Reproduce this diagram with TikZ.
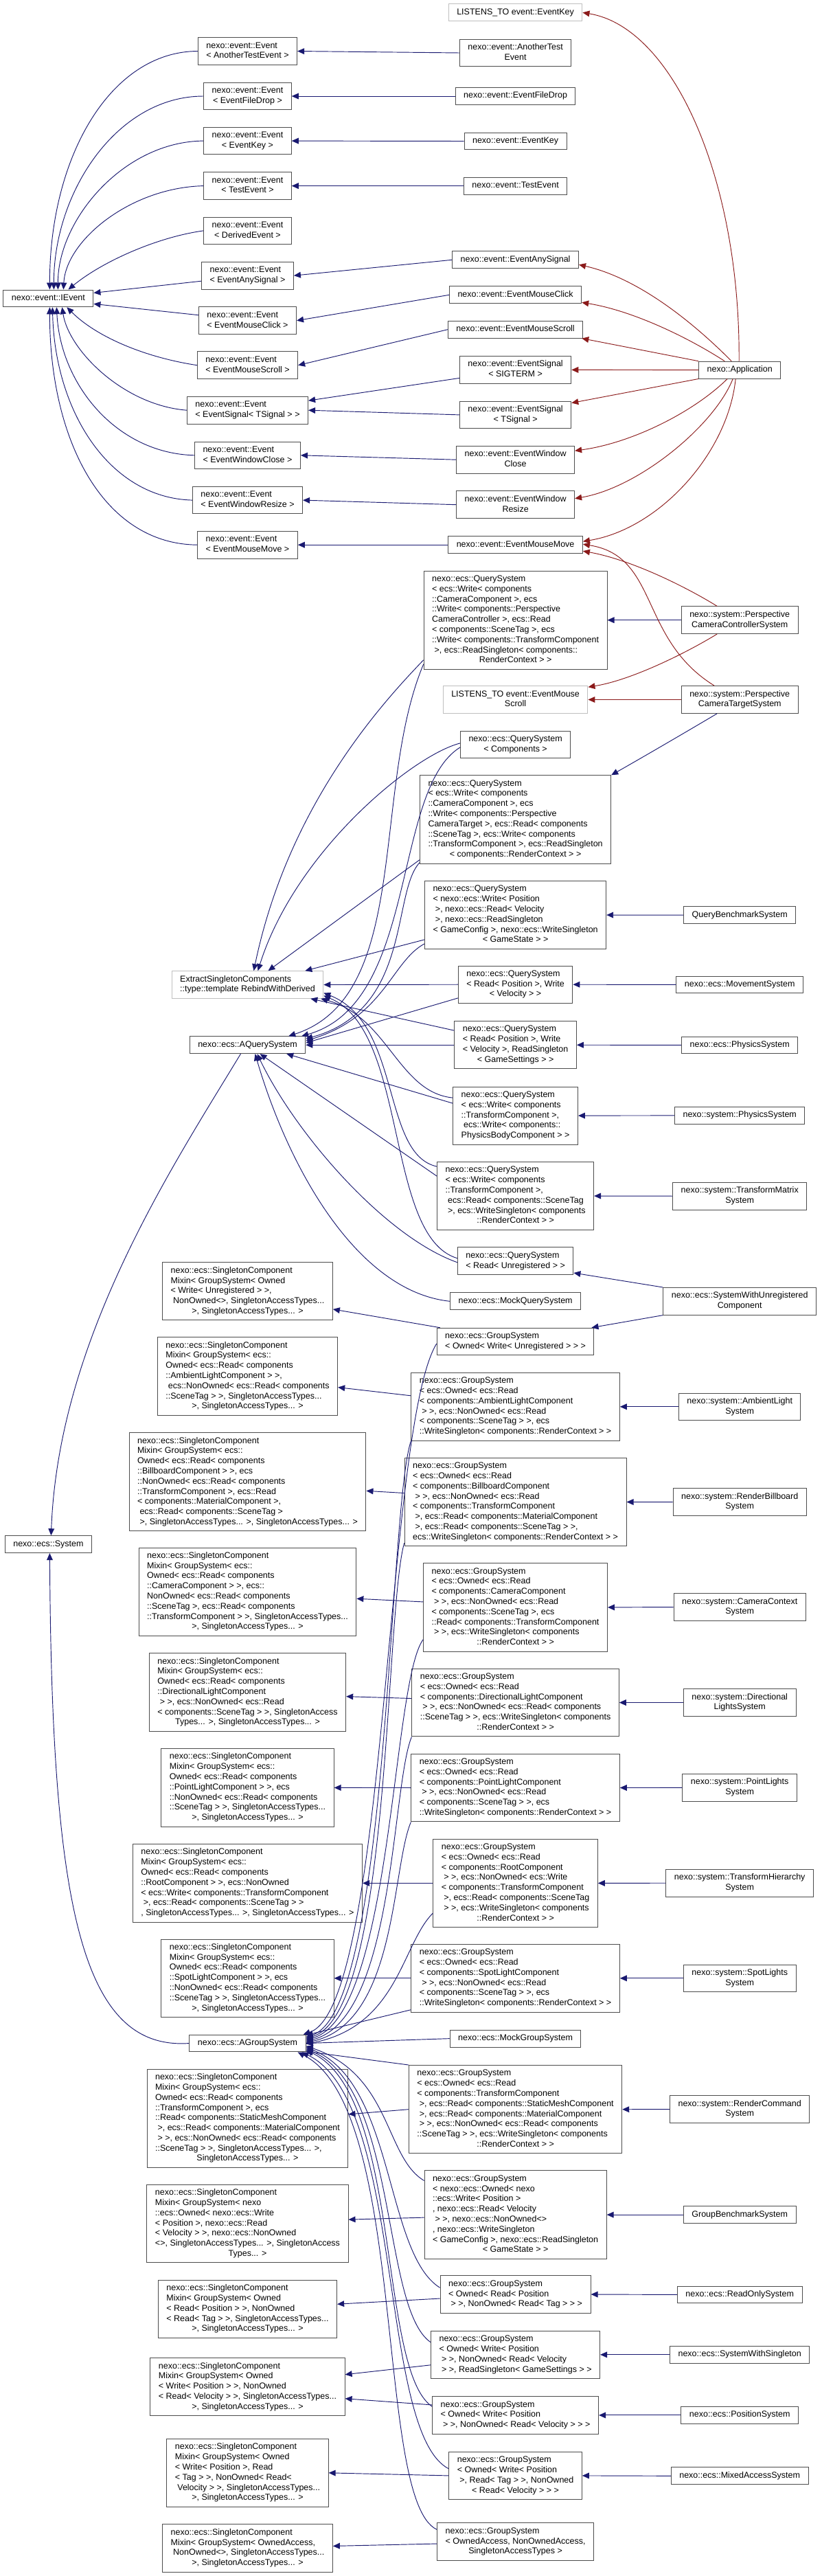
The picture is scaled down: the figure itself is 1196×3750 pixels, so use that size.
\documentclass[tikz,border=0pt]{standalone}
\usepackage{fontspec}
\newfontfamily\dotfont{Liberation Sans}
\usetikzlibrary{arrows.meta, calc}

\definecolor{navyedge}{RGB}{25,25,112}
\definecolor{rededge}{RGB}{139,26,26}
\definecolor{boxline}{RGB}{77,77,77}
\definecolor{extline}{RGB}{191,191,191}

\newcommand\graphfont{\dotfont\fontsize{10}{11.84}\selectfont}
% all lines centred
\newcommand\cname[1]{\begin{tabular}{@{}c@{}}#1\end{tabular}}
% lines left, last line centred
\newcommand\tname[2]{\begin{tabular}{@{}l@{}}#1\\\multicolumn{1}{@{}c@{}}{#2}\end{tabular}}

\begin{document}
\begin{tikzpicture}[
    x=0.8pt, y=-0.8pt,
    cls/.style={rectangle, draw=boxline, line width=0.8pt, fill=white,
                inner xsep=9.6pt, inner ysep=4pt, font=\graphfont},
    ext/.style={cls, draw=extline},
    inh/.style={draw=navyedge, line width=0.75pt, -{Triangle[length=8pt,width=7pt]}},
    lst/.style={draw=rededge, line width=0.75pt, -{Triangle[length=8pt,width=7pt]}}
  ]
    \useasboundingbox (0,0) rectangle (1196,3750);

    % Roots
    \node[cls] (ievent) at (70.4,434.4) {\cname{nexo::event::IEvent}};
    \node[cls] (system) at (70.4,2248.1) {\cname{nexo::ecs::System}};

    % Event templates
    \node[cls] (tAnother)     at (360.5,74.5)  {\tname{nexo::event::Event}{< AnotherTestEvent >}};
    \node[cls] (tFileDrop)    at (360.5,140)   {\tname{nexo::event::Event}{< EventFileDrop >}};
    \node[cls] (tKey)         at (360.5,205.1) {\tname{nexo::event::Event}{< EventKey >}};
    \node[cls] (tTest)        at (360.5,270.6) {\tname{nexo::event::Event}{< TestEvent >}};
    \node[cls] (tDerived)     at (360.5,335.9) {\tname{nexo::event::Event}{< DerivedEvent >}};
    \node[cls] (tAnySignal)   at (360.5,401.2) {\tname{nexo::event::Event}{< EventAnySignal >}};
    \node[cls] (tMouseClick)  at (360.5,466.7) {\tname{nexo::event::Event}{< EventMouseClick >}};
    \node[cls] (tMouseScroll) at (360.5,531.7) {\tname{nexo::event::Event}{< EventMouseScroll >}};
    \node[cls] (tSignal)      at (360.5,597.2) {\tname{nexo::event::Event}{< EventSignal< TSignal > >}};
    \node[cls] (tWinClose)    at (360.5,662.8) {\tname{nexo::event::Event}{< EventWindowClose >}};
    \node[cls] (tWinResize)   at (360.5,728.1) {\tname{nexo::event::Event}{< EventWindowResize >}};
    \node[cls] (tMouseMove)   at (360.5,793.2) {\tname{nexo::event::Event}{< EventMouseMove >}};

    % Events
    \node[ext] (ltKey)        at (750.6,18.3)  {\cname{LISTENS\_TO event::EventKey}};
    \node[cls] (eAnother)     at (750.6,77)    {\cname{nexo::event::AnotherTest\\Event}};
    \node[cls] (eFileDrop)    at (750.6,140)   {\cname{nexo::event::EventFileDrop}};
    \node[cls] (eKey)         at (750.6,205.5) {\cname{nexo::event::EventKey}};
    \node[cls] (eTest)        at (750.6,270.6) {\cname{nexo::event::TestEvent}};
    \node[cls] (eAnySignal)   at (750.6,378.3) {\cname{nexo::event::EventAnySignal}};
    \node[cls] (eMouseClick)  at (750.6,429.3) {\cname{nexo::event::EventMouseClick}};
    \node[cls] (eMouseScroll) at (750.6,479.7) {\cname{nexo::event::EventMouseScroll}};
    \node[cls] (eSigterm)     at (750.6,538.4) {\cname{nexo::event::EventSignal\\< SIGTERM >}};
    \node[cls] (eSignal)      at (750.6,603.9) {\cname{nexo::event::EventSignal\\< TSignal >}};
    \node[cls] (eWinClose)    at (750.6,669.2) {\cname{nexo::event::EventWindow\\Close}};
    \node[cls] (eWinResize)   at (750.6,734.7) {\cname{nexo::event::EventWindow\\Resize}};
    \node[cls] (eMouseMove)   at (750.6,793.2) {\cname{nexo::event::EventMouseMove}};

    % Application
    \node[cls] (app) at (1077.2,538.6) {\cname{nexo::Application}};

    % Query systems
    \node[ext] (extract) at (360.5,1433.5) {\tname{ExtractSingletonComponents}{::type::template RebindWithDerived}};
    \node[cls] (aquery)  at (360.5,1521.2) {\cname{nexo::ecs::AQuerySystem}};

    \node[cls] (qCamCtrl) at (750.6,902.7) {\tname{nexo::ecs::QuerySystem\\< ecs::Write< components\\::CameraComponent >, ecs\\::Write< components::Perspective\\CameraController >, ecs::Read\\< components::SceneTag >, ecs\\::Write< components::TransformComponent\\\ >, ecs::ReadSingleton< components::}{RenderContext > >}};
    \node[ext] (ltScroll) at (750.6,1018.5) {\cname{LISTENS\_TO event::EventMouse\\Scroll}};
    \node[cls] (qComponents) at (750.6,1083.9) {\tname{nexo::ecs::QuerySystem}{< Components >}};
    \node[cls] (qCamTarget) at (750.6,1193) {\tname{nexo::ecs::QuerySystem\\< ecs::Write< components\\::CameraComponent >, ecs\\::Write< components::Perspective\\CameraTarget >, ecs::Read< components\\::SceneTag >, ecs::Write< components\\::TransformComponent >, ecs::ReadSingleton}{< components::RenderContext > >}};
    \node[cls] (qBench) at (750.6,1332) {\tname{nexo::ecs::QuerySystem\\< nexo::ecs::Write< Position\\\ >, nexo::ecs::Read< Velocity\\\ >, nexo::ecs::ReadSingleton\\< GameConfig >, nexo::ecs::WriteSingleton}{< GameState > >}};
    \node[cls] (qMovement) at (750.6,1433.2) {\tname{nexo::ecs::QuerySystem\\< Read< Position >, Write}{< Velocity > >}};
    \node[cls] (qPhysics) at (750.6,1521.2) {\tname{nexo::ecs::QuerySystem\\< Read< Position >, Write\\< Velocity >, ReadSingleton}{< GameSettings > >}};
    \node[cls] (qPhysBody) at (750.6,1624.1) {\tname{nexo::ecs::QuerySystem\\< ecs::Write< components\\::TransformComponent >,\\\ ecs::Write< components::}{PhysicsBodyComponent > >}};
    \node[cls] (qTransform) at (750.6,1741) {\tname{nexo::ecs::QuerySystem\\< ecs::Write< components\\::TransformComponent >,\\\ ecs::Read< components::SceneTag\\\ >, ecs::WriteSingleton< components}{::RenderContext > >}};
    \node[cls] (qUnreg) at (750.6,1835.7) {\tname{nexo::ecs::QuerySystem}{< Read< Unregistered > >}};
    \node[cls] (mockQuery) at (750.6,1894.3) {\cname{nexo::ecs::MockQuerySystem}};

    % Query system users
    \node[cls] (camCtrl)   at (1077.2,902.7)  {\cname{nexo::system::Perspective\\CameraControllerSystem}};
    \node[cls] (camTarget) at (1077.2,1018.5) {\cname{nexo::system::Perspective\\CameraTargetSystem}};
    \node[cls] (benchQuery) at (1077.2,1332.2) {\cname{QueryBenchmarkSystem}};
    \node[cls] (movement)   at (1077.2,1433.4) {\cname{nexo::ecs::MovementSystem}};
    \node[cls] (ecsPhysics) at (1077.2,1521.4) {\cname{nexo::ecs::PhysicsSystem}};
    \node[cls] (sysPhysics) at (1077.2,1623.9) {\cname{nexo::system::PhysicsSystem}};
    \node[cls] (transformMatrix) at (1077.2,1741.2) {\cname{nexo::system::TransformMatrix\\System}};
    \node[cls] (withUnreg) at (1077.2,1894.3) {\cname{nexo::ecs::SystemWithUnregistered\\Component}};

    % Singleton mixins
    \node[cls] (mUnreg) at (360.5,1879.9) {\tname{nexo::ecs::SingletonComponent\\Mixin< GroupSystem< Owned\\< Write< Unregistered > >,\\\ NonOwned<>, SingletonAccessTypes...}{>, SingletonAccessTypes... >}};
    \node[cls] (mAmbient) at (360.5,2003.6) {\tname{nexo::ecs::SingletonComponent\\Mixin< GroupSystem< ecs::\\Owned< ecs::Read< components\\::AmbientLightComponent > >,\\\ ecs::NonOwned< ecs::Read< components\\::SceneTag > >, SingletonAccessTypes...}{>, SingletonAccessTypes... >}};
    \node[cls] (mBillboard) at (360.5,2157.3) {\tname{nexo::ecs::SingletonComponent\\Mixin< GroupSystem< ecs::\\Owned< ecs::Read< components\\::BillboardComponent > >, ecs\\::NonOwned< ecs::Read< components\\::TransformComponent >, ecs::Read\\< components::MaterialComponent >,\\\ ecs::Read< components::SceneTag >}{\ >, SingletonAccessTypes... >, SingletonAccessTypes... >}};
    \node[cls] (mCamera) at (360.5,2317.2) {\tname{nexo::ecs::SingletonComponent\\Mixin< GroupSystem< ecs::\\Owned< ecs::Read< components\\::CameraComponent > >, ecs::\\NonOwned< ecs::Read< components\\::SceneTag >, ecs::Read< components\\::TransformComponent > >, SingletonAccessTypes...}{>, SingletonAccessTypes... >}};
    \node[cls] (mDirLight) at (360.5,2463.6) {\tname{nexo::ecs::SingletonComponent\\Mixin< GroupSystem< ecs::\\Owned< ecs::Read< components\\::DirectionalLightComponent\\\ > >, ecs::NonOwned< ecs::Read\\< components::SceneTag > >, SingletonAccess}{Types... >, SingletonAccessTypes... >}};
    \node[cls] (mPointLight) at (360.5,2602.4) {\tname{nexo::ecs::SingletonComponent\\Mixin< GroupSystem< ecs::\\Owned< ecs::Read< components\\::PointLightComponent > >, ecs\\::NonOwned< ecs::Read< components\\::SceneTag > >, SingletonAccessTypes...}{>, SingletonAccessTypes... >}};
    \node[cls] (mRoot) at (360.5,2741.4) {\tname{nexo::ecs::SingletonComponent\\Mixin< GroupSystem< ecs::\\Owned< ecs::Read< components\\::RootComponent > >, ecs::NonOwned\\< ecs::Write< components::TransformComponent\\\ >, ecs::Read< components::SceneTag > >}{, SingletonAccessTypes... >, SingletonAccessTypes... >}};
    \node[cls] (mSpotLight) at (360.5,2879.8) {\tname{nexo::ecs::SingletonComponent\\Mixin< GroupSystem< ecs::\\Owned< ecs::Read< components\\::SpotLightComponent > >, ecs\\::NonOwned< ecs::Read< components\\::SceneTag > >, SingletonAccessTypes...}{>, SingletonAccessTypes... >}};
    \node[cls] (agroup) at (360.5,2974.5) {\cname{nexo::ecs::AGroupSystem}};
    \node[cls] (mStaticMesh) at (360.5,3083.8) {\tname{nexo::ecs::SingletonComponent\\Mixin< GroupSystem< ecs::\\Owned< ecs::Read< components\\::TransformComponent >, ecs\\::Read< components::StaticMeshComponent\\\ >, ecs::Read< components::MaterialComponent\\\ > >, ecs::NonOwned< ecs::Read< components\\::SceneTag > >, SingletonAccessTypes... >,}{SingletonAccessTypes... >}};
    \node[cls] (mBench) at (360.5,3237.1) {\tname{nexo::ecs::SingletonComponent\\Mixin< GroupSystem< nexo\\::ecs::Owned< nexo::ecs::Write\\< Position >, nexo::ecs::Read\\< Velocity > >, nexo::ecs::NonOwned\\<>, SingletonAccessTypes... >, SingletonAccess}{Types... >}};
    \node[cls] (mReadOnly) at (360.5,3361.2) {\tname{nexo::ecs::SingletonComponent\\Mixin< GroupSystem< Owned\\< Read< Position > >, NonOwned\\< Read< Tag > >, SingletonAccessTypes...}{>, SingletonAccessTypes... >}};
    \node[cls] (mWithSingleton) at (360.5,3474.7) {\tname{nexo::ecs::SingletonComponent\\Mixin< GroupSystem< Owned\\< Write< Position > >, NonOwned\\< Read< Velocity > >, SingletonAccessTypes...}{>, SingletonAccessTypes... >}};
    \node[cls] (mMixed) at (360.5,3599.8) {\tname{nexo::ecs::SingletonComponent\\Mixin< GroupSystem< Owned\\< Write< Position >, Read\\< Tag > >, NonOwned< Read<\\\ Velocity > >, SingletonAccessTypes...}{>, SingletonAccessTypes... >}};
    \node[cls] (mOwnedAccess) at (360.5,3709.4) {\tname{nexo::ecs::SingletonComponent\\Mixin< GroupSystem< OwnedAccess,\\\ NonOwned<>, SingletonAccessTypes...}{>, SingletonAccessTypes... >}};

    % Group systems
    \node[cls] (gUnreg) at (750.6,1953) {\tname{nexo::ecs::GroupSystem}{< Owned< Write< Unregistered > > >}};
    \node[cls] (gAmbient) at (750.6,2047.8) {\tname{nexo::ecs::GroupSystem\\< ecs::Owned< ecs::Read\\< components::AmbientLightComponent\\\ > >, ecs::NonOwned< ecs::Read\\< components::SceneTag > >, ecs}{::WriteSingleton< components::RenderContext > >}};
    \node[cls] (gBillboard) at (750.6,2186.5) {\tname{nexo::ecs::GroupSystem\\< ecs::Owned< ecs::Read\\< components::BillboardComponent\\\ > >, ecs::NonOwned< ecs::Read\\< components::TransformComponent\\\ >, ecs::Read< components::MaterialComponent\\\ >, ecs::Read< components::SceneTag > >,}{ecs::WriteSingleton< components::RenderContext > >}};
    \node[cls] (gCamera) at (750.6,2339.9) {\tname{nexo::ecs::GroupSystem\\< ecs::Owned< ecs::Read\\< components::CameraComponent\\\ > >, ecs::NonOwned< ecs::Read\\< components::SceneTag >, ecs\\::Read< components::TransformComponent\\\ > >, ecs::WriteSingleton< components}{::RenderContext > >}};
    \node[cls] (gDirLight) at (750.6,2478.5) {\tname{nexo::ecs::GroupSystem\\< ecs::Owned< ecs::Read\\< components::DirectionalLightComponent\\\ > >, ecs::NonOwned< ecs::Read< components\\::SceneTag > >, ecs::WriteSingleton< components}{::RenderContext > >}};
    \node[cls] (gPointLight) at (750.6,2602.5) {\tname{nexo::ecs::GroupSystem\\< ecs::Owned< ecs::Read\\< components::PointLightComponent\\\ > >, ecs::NonOwned< ecs::Read\\< components::SceneTag > >, ecs}{::WriteSingleton< components::RenderContext > >}};
    \node[cls] (gRoot) at (750.6,2741.4) {\tname{nexo::ecs::GroupSystem\\< ecs::Owned< ecs::Read\\< components::RootComponent\\\ > >, ecs::NonOwned< ecs::Write\\< components::TransformComponent\\\ >, ecs::Read< components::SceneTag\\\ > >, ecs::WriteSingleton< components}{::RenderContext > >}};
    \node[cls] (gSpotLight) at (750.6,2879.8) {\tname{nexo::ecs::GroupSystem\\< ecs::Owned< ecs::Read\\< components::SpotLightComponent\\\ > >, ecs::NonOwned< ecs::Read\\< components::SceneTag > >, ecs}{::WriteSingleton< components::RenderContext > >}};
    \node[cls] (mockGroup) at (750.6,2967.6) {\cname{nexo::ecs::MockGroupSystem}};
    \node[cls] (gStaticMesh) at (750.6,3070.7) {\tname{nexo::ecs::GroupSystem\\< ecs::Owned< ecs::Read\\< components::TransformComponent\\\ >, ecs::Read< components::StaticMeshComponent\\\ >, ecs::Read< components::MaterialComponent\\\ > >, ecs::NonOwned< ecs::Read< components\\::SceneTag > >, ecs::WriteSingleton< components}{::RenderContext > >}};
    \node[cls] (gBench) at (750.6,3224.1) {\tname{nexo::ecs::GroupSystem\\< nexo::ecs::Owned< nexo\\::ecs::Write< Position >\\, nexo::ecs::Read< Velocity\\\ > >, nexo::ecs::NonOwned<>\\, nexo::ecs::WriteSingleton\\< GameConfig >, nexo::ecs::ReadSingleton}{< GameState > >}};
    \node[cls] (gReadOnly) at (750.6,3340) {\tname{nexo::ecs::GroupSystem\\< Owned< Read< Position}{\ > >, NonOwned< Read< Tag > > >}};
    \node[cls] (gWithSingleton) at (750.6,3427.8) {\tname{nexo::ecs::GroupSystem\\< Owned< Write< Position\\\ > >, NonOwned< Read< Velocity}{\ > >, ReadSingleton< GameSettings > >}};
    \node[cls] (gPosition) at (750.6,3515.9) {\tname{nexo::ecs::GroupSystem\\< Owned< Write< Position}{\ > >, NonOwned< Read< Velocity > > >}};
    \node[cls] (gMixed) at (750.6,3603.9) {\tname{nexo::ecs::GroupSystem\\< Owned< Write< Position\\\ >, Read< Tag > >, NonOwned}{< Read< Velocity > > >}};
    \node[cls] (gOwnedAccess) at (750.6,3700) {\tname{nexo::ecs::GroupSystem\\< OwnedAccess, NonOwnedAccess,}{SingletonAccessTypes >}};

    % Group system users
    \node[cls] (ambient)       at (1077.2,2047.8) {\cname{nexo::system::AmbientLight\\System}};
    \node[cls] (billboard)     at (1077.2,2186.6) {\cname{nexo::system::RenderBillboard\\System}};
    \node[cls] (cameraContext) at (1077.2,2339.5) {\cname{nexo::system::CameraContext\\System}};
    \node[cls] (dirLights)     at (1077.2,2478.5) {\cname{nexo::system::Directional\\LightsSystem}};
    \node[cls] (pointLights)   at (1077.2,2602.4) {\cname{nexo::system::PointLights\\System}};
    \node[cls] (transformHierarchy) at (1077.2,2741.2) {\cname{nexo::system::TransformHierarchy\\System}};
    \node[cls] (spotLights)    at (1077.2,2879.8) {\cname{nexo::system::SpotLights\\System}};
    \node[cls] (renderCommand) at (1077.2,3070.6) {\cname{nexo::system::RenderCommand\\System}};
    \node[cls] (groupBench)    at (1077.2,3224.1) {\cname{GroupBenchmarkSystem}};
    \node[cls] (readOnly)      at (1077.2,3340.4) {\cname{nexo::ecs::ReadOnlySystem}};
    \node[cls] (withSingleton) at (1077.2,3427.8) {\cname{nexo::ecs::SystemWithSingleton}};
    \node[cls] (position)      at (1077.2,3515.9) {\cname{nexo::ecs::PositionSystem}};
    \node[cls] (mixedAccess)   at (1077.2,3604.3) {\cname{nexo::ecs::MixedAccessSystem}};

    % Templates to IEvent
    \draw[inh] (tAnother.west) .. controls (160,75) and (72,230) .. ($(ievent.north)+(2,0)$);
    \draw[inh] (tFileDrop.west) .. controls (170,140) and (78,280) .. ($(ievent.north)+(8,0)$);
    \draw[inh] (tKey.west) .. controls (180,206) and (84,320) .. ($(ievent.north)+(14,0)$);
    \draw[inh] (tTest.west) .. controls (190,273) and (96,350) .. ($(ievent.north)+(22,0)$);
    \draw[inh] (tDerived.west) .. controls (230,345) and (150,380) .. ($(ievent.north)+(29,0)$);
    \draw[inh] ($(tAnySignal.west)+(0,8)$) -- ($(ievent.east)+(0,-8)$);
    \draw[inh] ($(tMouseClick.west)+(0,-8)$) -- ($(ievent.east)+(0,8)$);
    \draw[inh] (tMouseScroll.west) .. controls (210,520) and (140,490) .. ($(ievent.south)+(27,0)$);
    \draw[inh] (tSignal.west) .. controls (180,590) and (100,510) .. ($(ievent.south)+(20,0)$);
    \draw[inh] (tWinClose.west) .. controls (170,660) and (88,560) .. ($(ievent.south)+(12,0)$);
    \draw[inh] (tWinResize.west) .. controls (160,725) and (80,600) .. ($(ievent.south)+(6,0)$);
    \draw[inh] (tMouseMove.west) .. controls (150,792) and (72,640) .. ($(ievent.south)+(2,0)$);

    % Events to templates
    \draw[inh] (eAnother.west) -- (tAnother.east);
    \draw[inh] (eFileDrop.west) -- (tFileDrop.east);
    \draw[inh] (eKey.west) -- (tKey.east);
    \draw[inh] (eTest.west) -- (tTest.east);
    \draw[inh] (eAnySignal.west) -- (tAnySignal.east);
    \draw[inh] (eMouseClick.west) -- (tMouseClick.east);
    \draw[inh] (eMouseScroll.west) -- (tMouseScroll.east);
    \draw[inh] ($(eSigterm.west)+(0,12)$) -- ($(tSignal.east)+(0,-14)$);
    \draw[inh] (eSignal.west) -- (tSignal.east);
    \draw[inh] (eWinClose.west) -- (tWinClose.east);
    \draw[inh] (eWinResize.west) -- (tWinResize.east);
    \draw[inh] (eMouseMove.west) -- (tMouseMove.east);

    % Application listens to
    \draw[lst] ($(app.north)+(-1,0)$) .. controls (1078,260) and (980,40) .. (ltKey.east);
    \draw[lst] ($(app.north)+(-12,0)$) .. controls (1010,470) and (930,405) .. ($(eAnySignal.east)+(0,7)$);
    \draw[lst] ($(app.north)+(-22,0)$) .. controls (1000,490) and (920,452) .. ($(eMouseClick.east)+(0,11)$);
    \draw[lst] (app.north west) -- ($(eMouseScroll.south east)+(-2,0)$);
    \draw[lst] (app.west) -- (eSigterm.east);
    \draw[lst] (app.south west) -- ($(eSignal.north east)+(0,3)$);
    \draw[lst] ($(app.south)+(-18,0)$) .. controls (1010,600) and (920,645) .. ($(eWinClose.east)+(0,-13)$);
    \draw[lst] ($(app.south)+(-10,0)$) .. controls (1040,620) and (930,710) .. ($(eWinResize.east)+(0,-9)$);
    \draw[lst] ($(app.south)+(-6,0)$) .. controls (1060,660) and (960,770) .. ($(eMouseMove.east)+(0,-5)$);

    % Camera systems
    \draw[lst] ($(camCtrl.north)+(-33,0)$) .. controls (1000,855) and (920,815) .. ($(eMouseMove.east)+(0,9)$);
    \draw[inh] (camCtrl.west) -- (qCamCtrl.east);
    \draw[lst] ($(camCtrl.south)+(-33,0)$) .. controls (1000,950) and (920,990) .. ($(ltScroll.north east)+(0,2)$);
    \draw[lst] ($(camTarget.north)+(-37,0)$) .. controls (930,930) and (960,810) .. ($(eMouseMove.east)+(0,-1)$);
    \draw[lst] (camTarget.west) -- (ltScroll.east);
    \draw[inh] ($(camTarget.south)+(-33,0)$) .. controls (1000,1065) and (940,1100) .. (qCamTarget.north east);

    % Query systems to Extract
    \draw[inh] ($(qCamCtrl.south west)+(0,-14)$) .. controls (560,1020) and (420,1170) .. ($(extract.north)+(9,0)$);
    \draw[inh] ($(qComponents.west)+(0,-2)$) .. controls (600,1100) and (430,1240) .. ($(extract.north)+(15,0)$);
    \draw[inh] ($(qCamTarget.south west)+(0,-6)$) -- ($(extract.north)+(30,0)$);
    \draw[inh] ($(qBench.south west)+(0,-14)$) -- ($(extract.north east)+(-27,0)$);
    \draw[inh] (qMovement.west) -- (extract.east);
    \draw[inh] ($(qPhysics.north west)+(0,14)$) -- ($(extract.south east)+(-19,0)$);
    \draw[inh] ($(qPhysBody.west)+(0,-26)$) .. controls (580,1590) and (565,1480) .. ($(extract.south east)+(-4,0)$);
    \draw[inh] ($(qTransform.north west)+(0,7)$) .. controls (555,1680) and (585,1490) .. ($(extract.east)+(0,12)$);
    \draw[inh] ($(qUnreg.west)+(0,-4)$) .. controls (560,1800) and (595,1500) .. ($(extract.east)+(0,16)$);

    % Query systems to AQuerySystem
    \draw[inh] ($(qCamCtrl.south west)+(0,-8)$) .. controls (540,1150) and (600,1450) .. ($(aquery.north east)+(-25,0)$);
    \draw[inh] ($(qComponents.west)+(0,4)$) .. controls (570,1150) and (610,1460) .. ($(aquery.north east)+(-6,0)$);
    \draw[inh] ($(qCamTarget.south west)+(0,-2)$) .. controls (570,1300) and (600,1470) .. ($(aquery.east)+(0,-9)$);
    \draw[inh] ($(qBench.south west)+(0,-8)$) .. controls (570,1400) and (560,1480) .. ($(aquery.east)+(0,-6)$);
    \draw[inh] ($(qMovement.south west)+(0,-8)$) -- ($(aquery.east)+(0,-3)$);
    \draw[inh] (qPhysics.west) -- (aquery.east);
    \draw[inh] ($(qPhysBody.west)+(0,-18)$) -- ($(aquery.south east)+(-28,0)$);
    \draw[inh] ($(qTransform.north west)+(0,21)$) -- ($(aquery.south)+(18,0)$);
    \draw[inh] ($(qUnreg.west)+(0,2)$) .. controls (560,1800) and (430,1650) .. ($(aquery.south)+(14,0)$);
    \draw[inh] (mockQuery.west) .. controls (520,1880) and (420,1700) .. ($(aquery.south)+(11,0)$);

    % Query system users
    \draw[inh] (benchQuery.west) -- (qBench.east);
    \draw[inh] (movement.west) -- (qMovement.east);
    \draw[inh] (ecsPhysics.west) -- (qPhysics.east);
    \draw[inh] (sysPhysics.west) -- (qPhysBody.east);
    \draw[inh] (transformMatrix.west) -- (qTransform.east);
    \draw[inh] (withUnreg.north west) -- ($(qUnreg.south east)+(0,-3)$);
    \draw[inh] (withUnreg.south west) -- ($(gUnreg.north east)+(-4,0)$);

    % Bases to System
    \draw[inh] ($(aquery.south)+(-10,0)$) .. controls (250,1700) and (85,1950) .. ($(system.north)+(4,0)$);
    \draw[inh] (agroup.west) .. controls (120,2985) and (75,2780) .. ($(system.south)+(2,0)$);

    % Group systems to mixins
    \draw[inh] ($(gUnreg.north west)+(5,0)$) -- ($(mUnreg.east)+(0,26)$);
    \draw[inh] ($(gAmbient.west)+(0,-16)$) -- ($(mAmbient.east)+(0,16)$);
    \draw[inh] ($(gBillboard.west)+(0,-13)$) -- ($(mBillboard.east)+(0,13)$);
    \draw[inh] ($(gCamera.west)+(0,-8)$) -- ($(mCamera.east)+(0,10)$);
    \draw[inh] ($(gDirLight.west)+(0,-6)$) -- ($(mDirLight.east)+(0,6)$);
    \draw[inh] (gPointLight.west) -- (mPointLight.east);
    \draw[inh] (gRoot.west) -- (mRoot.east);
    \draw[inh] (gSpotLight.west) -- (mSpotLight.east);
    \draw[inh] (gStaticMesh.west) -- ($(mStaticMesh.east)+(0,-6)$);
    \draw[inh] ($(gBench.west)+(0,4)$) -- ($(mBench.east)+(0,-6)$);
    \draw[inh] ($(gReadOnly.west)+(0,6)$) -- ($(mReadOnly.east)+(0,-7)$);
    \draw[inh] ($(gWithSingleton.west)+(0,15)$) -- ($(mWithSingleton.east)+(0,-18)$);
    \draw[inh] ($(gPosition.west)+(0,-15)$) -- ($(mWithSingleton.east)+(0,17)$);
    \draw[inh] (gMixed.west) -- (mMixed.east);
    \draw[inh] ($(gOwnedAccess.west)+(0,3)$) -- ($(mOwnedAccess.east)+(0,-3)$);

    % Group systems to AGroupSystem
    \draw[inh] ($(gUnreg.west)+(0,3)$) .. controls (560,2080) and (565,2920) .. ($(agroup.north east)+(-4,0)$);
    \draw[inh] (gAmbient.south west) .. controls (565,2200) and (568,2925) .. ($(agroup.east)+(0,-9)$);
    \draw[inh] ($(gBillboard.south west)+(0,-5)$) .. controls (560,2350) and (570,2930) .. ($(agroup.east)+(0,-7)$);
    \draw[inh] ($(gCamera.south west)+(0,-18)$) .. controls (570,2450) and (572,2935) .. ($(agroup.east)+(0,-5)$);
    \draw[inh] (gDirLight.south west) .. controls (570,2600) and (575,2940) .. ($(agroup.east)+(0,-3)$);
    \draw[inh] (gPointLight.south west) .. controls (570,2720) and (578,2945) .. ($(agroup.east)+(0,-1)$);
    \draw[inh] ($(gRoot.south west)+(0,-21)$) .. controls (585,2830) and (580,2950) .. ($(agroup.east)+(0,1)$);
    \draw[inh] ($(gSpotLight.south west)+(0,-4)$) -- ($(agroup.north east)+(0,1)$);
    \draw[inh] (mockGroup.west) -- (agroup.east);
    \draw[inh] (gStaticMesh.north west) -- ($(agroup.south east)+(0,-1)$);
    \draw[inh] ($(gBench.north west)+(0,15)$) .. controls (560,3140) and (570,3020) .. ($(agroup.east)+(0,4)$);
    \draw[inh] ($(gReadOnly.north west)+(0,18)$) .. controls (560,3280) and (575,3030) .. ($(agroup.east)+(0,6)$);
    \draw[inh] ($(gWithSingleton.north west)+(0,17)$) .. controls (555,3360) and (580,3040) .. ($(agroup.east)+(0,8)$);
    \draw[inh] ($(gPosition.north west)+(0,15)$) .. controls (550,3450) and (585,3050) .. ($(agroup.east)+(0,10)$);
    \draw[inh] ($(gMixed.north west)+(0,25)$) .. controls (550,3540) and (590,3060) .. ($(agroup.south east)+(-6,0)$);
    \draw[inh] ($(gOwnedAccess.north west)+(0,10)$) .. controls (545,3640) and (595,3070) .. ($(agroup.south east)+(-12,0)$);

    % Group system users
    \draw[inh] (ambient.west) -- (gAmbient.east);
    \draw[inh] (billboard.west) -- (gBillboard.east);
    \draw[inh] (cameraContext.west) -- (gCamera.east);
    \draw[inh] (dirLights.west) -- (gDirLight.east);
    \draw[inh] (pointLights.west) -- (gPointLight.east);
    \draw[inh] (transformHierarchy.west) -- (gRoot.east);
    \draw[inh] (spotLights.west) -- (gSpotLight.east);
    \draw[inh] (renderCommand.west) -- (gStaticMesh.east);
    \draw[inh] (groupBench.west) -- (gBench.east);
    \draw[inh] (readOnly.west) -- (gReadOnly.east);
    \draw[inh] (withSingleton.west) -- (gWithSingleton.east);
    \draw[inh] (position.west) -- (gPosition.east);
    \draw[inh] (mixedAccess.west) -- (gMixed.east);

\end{tikzpicture}
\end{document}
